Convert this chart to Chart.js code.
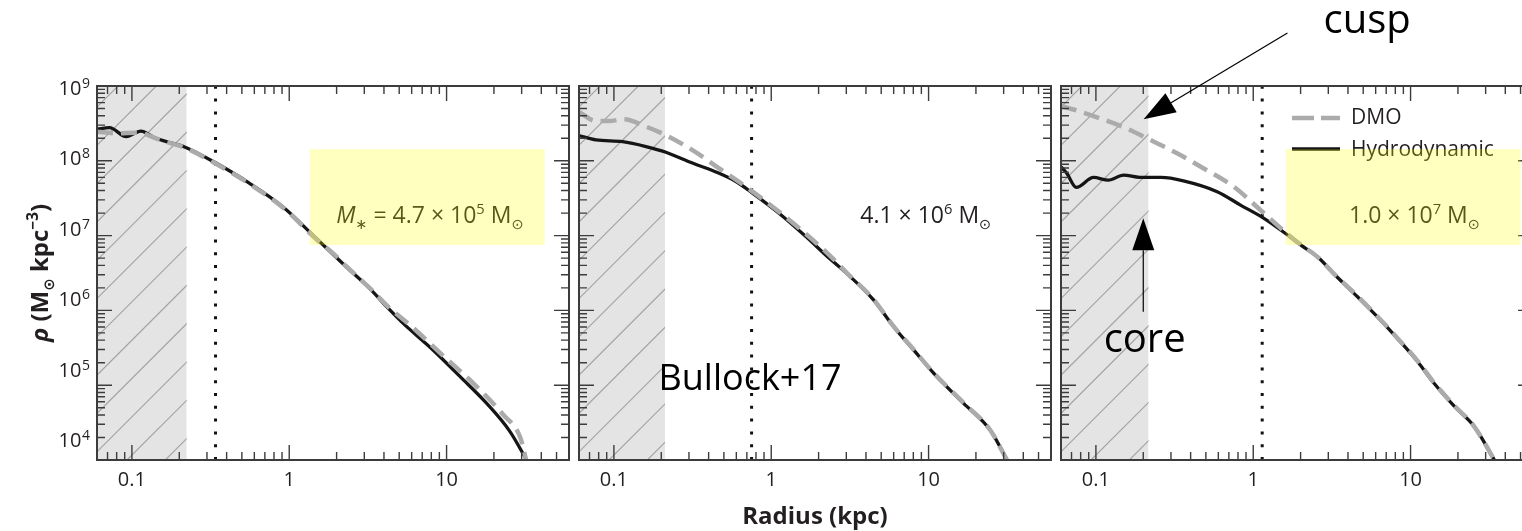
<!DOCTYPE html>
<html>
<head>
<meta charset="utf-8">
<script src="https://cdn.jsdelivr.net/npm/chart.js@4.4.0/dist/chart.umd.min.js"></script>
<style>
  html, body { margin: 0; padding: 0; background: #fff; overflow: hidden; }
  #wrap { position: relative; width: 1522px; height: 531px; overflow: hidden; }
  #wrap canvas { position: absolute; left: 0; top: 0; }
</style>
</head>
<body>
<div id="wrap">
  <canvas id="p0" width="1540" height="531"></canvas>
  <canvas id="p1" width="1540" height="531"></canvas>
  <canvas id="p2" width="1540" height="531"></canvas>
</div>
<script>
// Dark matter density profiles rho(r) of three dwarf haloes, DMO vs hydrodynamic runs.
// radius in kpc, density in Msun / kpc^3

// M* = 4.7e5 Msun
const hydroRadiusA = [0.06, 0.072, 0.092, 0.114, 0.142, 0.18, 0.22, 0.34, 0.56, 0.91, 1.5, 2.3, 3.24, 4.25, 5.3, 8.2, 12.2, 18, 25.3, 32.3];
const hydroA = [2.65e8, 2.78e8, 2.1e8, 2.5e8, 2.0e8, 1.72e8, 1.51e8, 9.4e7, 5.0e7, 2.43e7, 9.0e6, 3.84e6, 1.97e6, 1.07e6, 6.7e5, 2.96e5, 1.3e5, 5.7e4, 2.4e4, 1.0e4];
const dmoRadiusA = [0.06, 0.08, 0.11, 0.142, 0.18, 0.22, 0.34, 0.56, 0.91, 1.5, 1.9, 2.3, 3.24, 4.25, 5.84, 9.67, 14.8, 23, 29.4, 32];
const dmoA = [2.45e8, 2.33e8, 2.38e8, 2.0e8, 1.7e8, 1.48e8, 9.2e7, 4.9e7, 2.38e7, 8.8e6, 5.8e6, 3.9e6, 2.0e6, 1.12e6, 6.4e5, 2.4e5, 1.06e5, 4.0e4, 2.0e4, 1.0e4];

// M* = 4.1e6 Msun
const hydroRadiusB = [0.06, 0.077, 0.1135, 0.16, 0.214, 0.30, 0.445, 0.6, 0.76, 1.12, 1.66, 2.34, 3.03, 4.47, 6.0, 8.03, 10.8, 16.7, 24.7, 31.5];
const hydroB = [2.17e8, 1.9e8, 1.8e8, 1.55e8, 1.3e8, 9.7e7, 7.1e7, 5.25e7, 3.7e7, 1.99e7, 9.7e6, 4.97e6, 3.1e6, 1.38e6, 6.05e5, 2.96e5, 1.44e5, 5.7e4, 2.5e4, 1.0e4];
const dmoRadiusB = [0.06, 0.077, 0.093, 0.116, 0.16, 0.214, 0.316, 0.467, 0.69, 1.02, 1.51, 2.45, 3.03, 4.47, 6.0, 8.03, 10.8, 16.7, 24.7, 31.5];
const dmoB = [4.5e8, 3.4e8, 3.4e8, 3.6e8, 2.86e8, 2.2e8, 1.39e8, 7.9e7, 4.5e7, 2.43e7, 1.25e7, 5.0e6, 3.15e6, 1.4e6, 6.1e5, 3.0e5, 1.45e5, 5.8e4, 2.5e4, 1.0e4];

// M* = 1.0e7 Msun
const hydroRadiusC = [0.06, 0.0653, 0.075, 0.0966, 0.12, 0.15, 0.19, 0.26, 0.36, 0.59, 0.83, 1.17, 1.65, 2.0, 2.56, 3.3, 4.6, 6.16, 8.26, 11.1, 14.1, 19, 25.4, 34.1];
const hydroC = [8.3e7, 6.8e7, 4.4e7, 6.0e7, 5.5e7, 6.45e7, 6.0e7, 6.0e7, 5.4e7, 3.87e7, 2.56e7, 1.7e7, 1.02e7, 7.5e6, 5.2e6, 3.0e6, 1.52e6, 8.2e5, 4.2e5, 2.06e5, 1.06e5, 5.2e4, 2.8e4, 1.0e4];
const dmoRadiusC = [0.06, 0.0757, 0.106, 0.157, 0.222, 0.328, 0.485, 0.752, 1.11, 1.65, 2.0, 2.56, 3.3, 4.6, 6.16, 8.26, 11.1, 14.1, 19, 25.4, 34.1];
const dmoC = [5.4e8, 4.7e8, 3.7e8, 2.7e8, 1.9e8, 1.26e8, 7.9e7, 4.5e7, 2.2e7, 1.05e7, 7.6e6, 5.2e6, 3.0e6, 1.55e6, 8.3e5, 4.25e5, 2.1e5, 1.08e5, 5.3e4, 2.8e4, 1.0e4];

// stellar mass per halo, convergence radius (dotted) and resolution limit (hatched), kpc
const massMantissa = ['4.7', '4.1', '1.0'];
const massExponent = ['5', '6', '7'];
const convRadius = [0.34, 0.75, 1.14];
const resolvedRadius = [0.223, 0.211, 0.216];

// tick labels
const xTickLabels = [0.1, 1, 10];
const yTickExponents = [4, 5, 6, 7, 8, 9];

const xMin = 0.06, xMax = 60, yMin = 1e4, yMax = 1e9;

const FONT = '"Open Sans", "DejaVu Sans", sans-serif';
const INK = '#231f20';
const AXIS = '#3c3c3c';
const CANVAS_W = 1540;
const PLOT_W = 472;

const panels = [
  { id: 'p0', left: 97, hydroR: hydroRadiusA, hydro: hydroA, dmoR: dmoRadiusA, dmo: dmoA,
    massAt: [1.99, 1.46e7], starLabel: true, highlight: [1.35, 42, 7.5e6, 1.43e8] },
  { id: 'p1', left: 579, hydroR: hydroRadiusB, hydro: hydroB, dmoR: dmoRadiusB, dmo: dmoB,
    massAt: [3.68, 1.46e7] },
  { id: 'p2', left: 1061, hydroR: hydroRadiusC, hydro: hydroC, dmoR: dmoRadiusC, dmo: dmoC,
    massAt: [4.06, 1.46e7], highlight: [1.61, 50, 7.5e6, 1.43e8] }
];

function pts(rs, vs) { return rs.map((r, i) => ({ x: r, y: vs[i] })); }

function logTicks(min, max) {
  const out = [];
  for (let e = Math.floor(Math.log10(min)); e <= Math.ceil(Math.log10(max)); e++) {
    for (let m = 1; m <= 9; m++) {
      const v = m * Math.pow(10, e);
      if (v >= min * 0.999 && v <= max * 1.001) out.push({ value: v, major: m === 1 });
    }
  }
  return out;
}

// text made of runs: [text, style] with style '', 'i', 'sup', 'sub'
function runFont(s, size, weight) {
  let fs = size;
  if (s === 'sup') fs = size * 0.64;
  if (s === 'sub') fs = size * 0.62;
  return (s === 'i' ? 'italic ' : '') + weight + ' ' + fs.toFixed(1) + 'px ' + FONT;
}
function richWidth(ctx, parts, size, weight) {
  let w = 0;
  for (const [t, s] of parts) {
    ctx.font = runFont(s, size, weight);
    w += ctx.measureText(t).width;
  }
  return w;
}
function drawRich(ctx, x, y, parts, size, weight) {
  let cx = x;
  for (const [t, s] of parts) {
    ctx.font = runFont(s, size, weight);
    let dy = 0;
    if (s === 'sup') dy = -size * 0.4;
    if (s === 'sub') dy = size * 0.24;
    ctx.fillText(t, cx, y + dy);
    cx += ctx.measureText(t).width;
  }
}

function arrow(ctx, x0, y0, x1, y1) {
  const a = Math.atan2(y1 - y0, x1 - x0);
  const len = 32, half = 11;
  const bx = x1 - len * Math.cos(a), by = y1 - len * Math.sin(a);
  ctx.lineWidth = 1.2;
  ctx.beginPath(); ctx.moveTo(x0, y0); ctx.lineTo(bx, by); ctx.stroke();
  ctx.beginPath();
  ctx.moveTo(x1, y1);
  ctx.lineTo(bx + half * Math.sin(a), by - half * Math.cos(a));
  ctx.lineTo(bx - half * Math.sin(a), by + half * Math.cos(a));
  ctx.closePath(); ctx.fill();
}

function decor(idx) {
  const p = panels[idx];
  return {
    id: 'decor' + idx,
    beforeDatasetsDraw(chart) {
      // hatched band below the resolution limit
      const { ctx, chartArea: a, scales: { x } } = chart;
      const xr = x.getPixelForValue(resolvedRadius[idx]);
      ctx.save();
      ctx.beginPath();
      ctx.rect(a.left, a.top, xr - a.left, a.height);
      ctx.clip();
      ctx.fillStyle = '#e4e4e4';
      ctx.fillRect(a.left, a.top, xr - a.left, a.height);
      ctx.strokeStyle = '#a2a2a2';
      ctx.lineWidth = 1.1;
      ctx.beginPath();
      const step = 38.3;
      for (let c = a.left + a.top + 21 - 20 * step; c < a.right + a.bottom; c += step) {
        ctx.moveTo(c - a.bottom, a.bottom);
        ctx.lineTo(c - a.top, a.top);
      }
      ctx.stroke();
      ctx.restore();
    },
    afterDatasetsDraw(chart) {
      const { ctx, chartArea: a, scales: { x, y } } = chart;
      ctx.save();

      // inward ticks on all four sides
      ctx.strokeStyle = AXIS;
      ctx.lineWidth = 1.4;
      ctx.beginPath();
      for (const t of logTicks(xMin, xMax)) {
        const px = x.getPixelForValue(t.value);
        const len = t.major ? 15 : 8;
        ctx.moveTo(px, a.bottom); ctx.lineTo(px, a.bottom - len);
        ctx.moveTo(px, a.top); ctx.lineTo(px, a.top + len);
      }
      for (const t of logTicks(yMin, yMax)) {
        const py = y.getPixelForValue(t.value);
        const len = t.major ? 15 : 8;
        ctx.moveTo(a.left, py); ctx.lineTo(a.left + len, py);
        ctx.moveTo(a.right, py); ctx.lineTo(a.right - len, py);
      }
      ctx.stroke();
      ctx.lineWidth = 2;
      ctx.strokeRect(a.left, a.top, a.width, a.height);

      // x tick labels
      ctx.fillStyle = INK;
      ctx.font = '20px ' + FONT;
      ctx.textAlign = 'center';
      ctx.textBaseline = 'middle';
      for (const v of xTickLabels) {
        ctx.fillText(String(v), x.getPixelForValue(v), a.bottom + 20);
      }
      ctx.textAlign = 'left';
      ctx.textBaseline = 'alphabetic';

      if (idx === 0) {
        // y tick labels, 10^n
        const yl = chart.scales.yTicks;
        for (const e of yTickExponents) {
          const py = yl.getPixelForValue(Math.pow(10, e));
          ctx.font = '14px ' + FONT;
          const ew = ctx.measureText(String(e)).width;
          const right = a.left - 7;
          ctx.fillText(String(e), right - ew, py);
          ctx.font = '20px ' + FONT;
          const bw = ctx.measureText('10').width;
          ctx.fillText('10', right - ew - bw - 0.5, py + 7);
        }
        // y axis title, rotated
        const title = [['ρ', 'i'], [' (M', ''], ['⊙', 'sub'], [' kpc', ''], ['−3', 'sup'], [')', '']];
        ctx.save();
        ctx.translate(48, (a.top + a.bottom) / 2);
        ctx.rotate(-Math.PI / 2);
        const tw = richWidth(ctx, title, 24, 'bold');
        drawRich(ctx, -tw / 2, 0, title, 24, 'bold');
        ctx.restore();
      }

      if (idx === 1) {
        ctx.font = 'bold 24px ' + FONT;
        ctx.textAlign = 'center';
        ctx.fillText('Radius (kpc)', (a.left + a.right) / 2, 524);
        ctx.textAlign = 'left';
        ctx.font = '36px ' + FONT;
        ctx.fillStyle = '#000';
        ctx.fillText('Bullock+17', x.getPixelForValue(0.192), y.getPixelForValue(8.6e4));
      }

      // stellar mass label
      ctx.fillStyle = INK;
      const mass = [];
      if (p.starLabel) mass.push(['M', 'i'], ['∗', 'sub'], [' = ', '']);
      mass.push([massMantissa[idx] + ' × 10', ''], [massExponent[idx], 'sup'], [' M', ''], ['⊙', 'sub']);
      drawRich(ctx, x.getPixelForValue(p.massAt[0]), y.getPixelForValue(p.massAt[1]), mass, 23, 'normal');

      if (idx === 2) {
        // legend
        const lx = a.left + 231, lx2 = a.left + 279;
        ctx.lineWidth = 4.5;
        ctx.strokeStyle = '#ababab';
        ctx.setLineDash([22, 7]);
        ctx.beginPath(); ctx.moveTo(lx, a.top + 32); ctx.lineTo(lx2, a.top + 32); ctx.stroke();
        ctx.setLineDash([]);
        ctx.lineWidth = 3.5;
        ctx.strokeStyle = '#151515';
        ctx.beginPath(); ctx.moveTo(lx, a.top + 63); ctx.lineTo(lx2, a.top + 63); ctx.stroke();
        ctx.fillStyle = INK;
        ctx.font = '21px ' + FONT;
        ctx.textBaseline = 'middle';
        ctx.fillText('DMO', a.left + 290, a.top + 32);
        ctx.fillText('Hydrodynamic', a.left + 290, a.top + 64);
        ctx.textBaseline = 'alphabetic';

        // cusp / core annotations
        ctx.fillStyle = '#000';
        ctx.strokeStyle = '#000';
        ctx.font = '40px ' + FONT;
        ctx.fillText('cusp', x.getPixelForValue(2.8), y.getPixelForValue(5.1e9));
        ctx.fillText('core', x.getPixelForValue(0.112), y.getPixelForValue(2.8e5));
        arrow(ctx, x.getPixelForValue(1.65), y.getPixelForValue(5.1e9),
                   x.getPixelForValue(0.201), y.getPixelForValue(3.6e8));
        arrow(ctx, x.getPixelForValue(0.2), y.getPixelForValue(9.6e5),
                   x.getPixelForValue(0.2), y.getPixelForValue(1.7e7));
      }

      // translucent yellow highlight laid over everything beneath it
      if (p.highlight) {
        const [x0, x1, y0, y1] = p.highlight;
        const L = x.getPixelForValue(x0), R = x.getPixelForValue(x1);
        const T = y.getPixelForValue(y1), B = y.getPixelForValue(y0);
        ctx.fillStyle = 'rgba(255, 255, 0, 0.25)';
        ctx.fillRect(L, T, R - L, B - T);
      }
      ctx.restore();
    }
  };
}

panels.forEach((p, idx) => {
  const scales = {
    x: { type: 'logarithmic', display: false, min: xMin, max: xMax },
    y: { type: 'logarithmic', display: false, min: yMin, max: yMax }
  };
  if (idx === 0) {
    // the printed 10^n labels are set on a slightly tighter spacing than the ticks
    scales.yTicks = { type: 'logarithmic', display: false, min: Math.pow(10, 3.716), max: Math.pow(10, 9.0256) };
  }
  new Chart(document.getElementById(p.id), {
    type: 'line',
    data: {
      datasets: [
        {
          label: 'DMO',
          data: pts(p.dmoR, p.dmo),
          borderColor: '#ababab',
          borderWidth: 4.5,
          borderDash: [16, 8],
          pointRadius: 0,
          cubicInterpolationMode: 'monotone'
        },
        {
          label: 'Hydrodynamic',
          data: pts(p.hydroR, p.hydro),
          borderColor: '#151515',
          borderWidth: 3.3,
          pointRadius: 0,
          cubicInterpolationMode: 'monotone'
        },
        {
          label: 'convergence radius',
          data: [{ x: convRadius[idx], y: yMin }, { x: convRadius[idx], y: yMax }],
          borderColor: '#111',
          borderWidth: 3,
          borderDash: [3, 9.8],
          pointRadius: 0
        }
      ]
    },
    options: {
      responsive: false,
      animation: false,
      events: [],
      layout: { padding: { left: p.left, right: CANVAS_W - p.left - PLOT_W, top: 86, bottom: 71 } },
      scales: scales,
      plugins: { legend: { display: false }, tooltip: { enabled: false } }
    },
    plugins: [decor(idx)]
  });
});
</script>
</body>
</html>
